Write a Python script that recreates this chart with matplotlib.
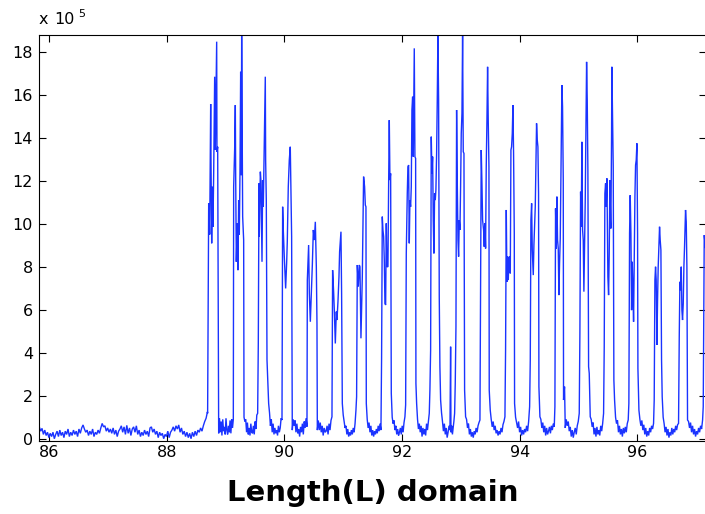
import numpy as np
import matplotlib
matplotlib.use("Agg")
import matplotlib.pyplot as plt

# Intensity along the length domain, in units of 1e5.

# Quiet lead-in before the first burst (evenly sampled between these limits)
lead_span = (85.83, 88.69)
lead_y = [0.55, 0.35, 0.48, 0.2, 0.4, 0.15, 0.3, 0.05, 0.25, 0.1,
          0.3, 0.0, 0.2, 0.35, 0.1, 0.4, 0.15, 0.3, 0.05, 0.35,
          0.2, 0.45, 0.1, 0.3, 0.15, 0.4, 0.2, 0.35, 0.1, 0.45,
          0.25, 0.5, 0.64, 0.45, 0.3, 0.4, 0.15, 0.35, 0.2, 0.45,
          0.1, 0.3, 0.2, 0.4, 0.25, 0.5, 0.71, 0.55, 0.6, 0.35,
          0.5, 0.3, 0.45, 0.25, 0.5, 0.2, 0.4, 0.1, 0.35, 0.45,
          0.6, 0.3, 0.55, 0.2, 0.62, 0.25, 0.5, 0.15, 0.45, 0.55,
          0.3, 0.6, 0.2, 0.4, 0.1, 0.3, 0.15, 0.4, 0.2, 0.35,
          0.1, 0.5, 0.55, 0.3, 0.45, 0.2, 0.35, 0.05, 0.3, 0.15,
          0.25, 0.0, 0.2, 0.1, 0.35, 0.05, 0.3, 0.4, 0.55, 0.35,
          0.6, 0.45, 0.64, 0.3, 0.5, 0.2, 0.35, 0.1, 0.3, 0.05,
          0.25, 0.0, 0.3, 0.1, 0.35, 0.15, 0.4, 0.3, 0.5, 0.35,
          0.6, 0.8, 0.95, 1.25]

# Bursts: (position, intensity) vertices
b01 = [(88.693, 1.18), (88.711, 10.95), (88.728, 9.5), (88.745, 15.57), (88.750, 13.1),
       (88.762, 9.09), (88.773, 11.72), (88.784, 9.86), (88.796, 12.34), (88.813, 16.84),
       (88.824, 13.43), (88.847, 18.47), (88.852, 13.35), (88.864, 13.58), (88.881, 0.25)]
b02 = [(89.130, 0.9), (89.136, 11.72), (89.153, 13.5), (89.164, 15.52), (89.170, 12.34),
       (89.181, 8.23), (89.198, 10.02), (89.209, 7.84), (89.221, 11.10), (89.232, 9.5),
       (89.243, 12.26), (89.255, 17.07), (89.266, 12.26), (89.272, 18.78), (89.283, 13.0),
       (89.289, 10.33), (89.306, 9.24), (89.312, 1.0)]
b03 = [(89.544, 1.18), (89.555, 4.43), (89.567, 11.88), (89.572, 9.40), (89.590, 12.42),
       (89.601, 11.95), (89.618, 8.23), (89.629, 12.03), (89.640, 10.79), (89.652, 12.96),
       (89.674, 16.84), (89.680, 12.96), (89.691, 11.10), (89.703, 3.66), (89.720, 2.42),
       (89.731, 1.64)]
b04 = [(89.958, 0.87), (89.969, 10.79), (89.980, 9.71), (89.997, 8.47), (90.020, 6.99),
       (90.037, 8.16), (90.048, 9.16), (90.065, 11.72), (90.082, 12.96), (90.099, 13.58),
       (90.110, 11.41), (90.122, 9.40), (90.133, 0.4)]
b05 = [(90.383, 0.56), (90.389, 7.38), (90.411, 9.01), (90.423, 6.76), (90.440, 5.44),
       (90.457, 6.76), (90.474, 8.08), (90.491, 9.71), (90.508, 9.24), (90.525, 10.09),
       (90.542, 8.00), (90.553, 5.36), (90.559, 0.4)]
b06 = [(90.808, 1.02), (90.819, 7.84), (90.836, 6.84), (90.848, 5.98), (90.865, 4.43),
       (90.882, 5.91), (90.893, 5.52), (90.910, 6.37), (90.927, 7.53), (90.938, 8.70),
       (90.961, 9.63), (90.972, 6.76), (90.984, 1.64)]
b07 = [(91.216, 1.33), (91.227, 1.95), (91.239, 8.08), (91.256, 7.07), (91.273, 8.08),
       (91.284, 8.00), (91.301, 4.67), (91.312, 5.98), (91.324, 7.53), (91.346, 12.19),
       (91.363, 11.72), (91.375, 10.87), (91.386, 10.79), (91.392, 1.64)]
b08 = [(91.641, 0.40), (91.652, 3.74), (91.664, 10.33), (91.675, 9.71), (91.687, 9.40),
       (91.698, 8.31), (91.709, 6.29), (91.721, 6.22), (91.732, 10.02), (91.743, 8.00),
       (91.760, 8.00), (91.772, 11.88), (91.783, 14.82), (91.794, 12.03), (91.806, 12.34),
       (91.817, 2.11)]
b09 = [(92.049, 1.02), (92.061, 1.57), (92.072, 8.62), (92.089, 11.41), (92.100, 12.65),
       (92.112, 12.73), (92.123, 9.09), (92.134, 11.10), (92.146, 10.79), (92.157, 11.72),
       (92.168, 15.29), (92.180, 15.91), (92.191, 13.12), (92.208, 18.16), (92.219, 13.12),
       (92.231, 13.04), (92.236, 2.57), (92.248, 1.64)]
b10 = [(92.463, 1.18), (92.474, 2.26), (92.486, 4.12), (92.497, 14.05), (92.508, 12.34),
       (92.520, 13.12), (92.531, 10.17), (92.542, 8.62), (92.554, 11.41), (92.565, 11.10),
       (92.576, 11.57), (92.588, 13.27), (92.599, 15.75), (92.610, 18.78), (92.622, 15.75),
       (92.633, 6.60), (92.644, 3.35), (92.656, 1.80)]
spike = [(92.815, 0.4), (92.826, 4.28), (92.832, 0.3)]
b11 = [(92.894, 1.18), (92.905, 2.57), (92.917, 5.21), (92.928, 15.29), (92.939, 12.03),
       (92.951, 9.24), (92.962, 8.47), (92.973, 10.17), (92.985, 9.71), (92.996, 11.72),
       (93.007, 14.20), (93.019, 15.13), (93.030, 18.78), (93.041, 13.35), (93.053, 13.27),
       (93.064, 2.26), (93.081, 1.02)]
b12 = [(93.325, 0.87), (93.336, 7.22), (93.347, 13.43), (93.359, 11.88), (93.370, 10.17),
       (93.387, 9.71), (93.398, 8.93), (93.410, 10.02), (93.421, 8.85), (93.432, 12.65),
       (93.444, 14.82), (93.455, 17.30), (93.466, 14.82), (93.478, 12.65), (93.483, 2.26),
       (93.500, 1.33)]
b13 = [(93.750, 1.02), (93.761, 4.12), (93.773, 10.64), (93.784, 7.30), (93.795, 8.47),
       (93.807, 7.38), (93.818, 8.39), (93.829, 8.47), (93.841, 7.69), (93.852, 13.43),
       (93.863, 13.58), (93.875, 14.20), (93.886, 15.52), (93.897, 13.27), (93.909, 9.55),
       (93.914, 1.64)]
b14 = [(94.170, 1.49), (94.181, 3.66), (94.192, 10.17), (94.204, 10.95), (94.215, 8.78),
       (94.232, 7.61), (94.243, 9.01), (94.254, 9.86), (94.266, 10.79), (94.277, 12.65),
       (94.288, 14.67), (94.300, 13.89), (94.311, 13.58), (94.322, 11.41), (94.328, 2.42),
       (94.345, 1.02)]
b15 = [(94.589, 0.56), (94.600, 1.49), (94.611, 10.71), (94.623, 8.85), (94.634, 11.26),
       (94.645, 9.24), (94.657, 8.85), (94.668, 6.68), (94.679, 8.16), (94.691, 9.32),
       (94.702, 12.19), (94.719, 16.45), (94.730, 15.44), (94.742, 12.03), (94.747, 1.80),
       (94.764, 2.42), (94.776, 0.5)]
b16 = [(95.014, 1.18), (95.025, 4.90), (95.037, 11.49), (95.048, 9.86), (95.059, 13.81),
       (95.071, 9.71), (95.082, 9.24), (95.093, 6.84), (95.105, 9.24), (95.116, 11.10),
       (95.127, 14.20), (95.139, 17.53), (95.150, 15.75), (95.161, 12.50), (95.173, 3.35),
       (95.184, 3.04), (95.201, 1.02)]
b17 = [(95.428, 1.18), (95.439, 4.28), (95.450, 11.41), (95.462, 11.88), (95.473, 10.79),
       (95.485, 12.11), (95.496, 8.78), (95.501, 7.53), (95.513, 6.68), (95.524, 8.62),
       (95.535, 12.03), (95.547, 10.17), (95.552, 9.78), (95.564, 14.20), (95.569, 17.30),
       (95.581, 15.05), (95.592, 12.65), (95.603, 2.73), (95.615, 1.80)]
b18 = [(95.847, 0.87), (95.858, 1.64), (95.870, 9.55), (95.881, 11.33), (95.893, 9.55),
       (95.904, 5.98), (95.915, 8.23), (95.927, 6.91), (95.938, 5.44), (95.949, 8.47),
       (95.961, 11.26), (95.972, 12.73), (95.983, 12.96), (95.995, 13.74), (96.006, 9.55),
       (96.012, 3.27), (96.029, 1.33)]
b19 = [(96.278, 0.71), (96.289, 1.80), (96.301, 7.38), (96.312, 8.00), (96.323, 7.38),
       (96.335, 4.36), (96.346, 6.45), (96.357, 8.00), (96.369, 8.93), (96.380, 9.86),
       (96.391, 9.24), (96.403, 8.78), (96.414, 3.66), (96.425, 1.95)]
b20 = [(96.703, 0.71), (96.715, 4.74), (96.726, 7.30), (96.737, 6.91), (96.749, 8.00),
       (96.760, 5.98), (96.771, 5.52), (96.783, 6.29), (96.794, 8.00), (96.805, 8.93),
       (96.817, 10.17), (96.822, 10.64), (96.834, 10.09), (96.845, 8.00), (96.856, 0.87)]
b21 = [(97.112, 0.87), (97.123, 1.49), (97.140, 9.47), (97.160, 8.9)]

# Background noise between bursts (evenly sampled between neighbouring bursts)
g01 = [0.95, 0.3, 0.8, 0.15, 0.9, 0.35, 0.55, 0.2, 0.95, 0.4, 0.2, 0.6, 0.3, 0.85, 0.25, 0.9, 0.5]
g02 = [0.8, 0.9, 0.3, 0.75, 0.2, 0.5, 0.15, 0.7, 0.3, 0.25, 0.6, 0.2, 0.8, 0.45, 1.1]
g03 = [1.2, 0.6, 0.9, 0.3, 0.7, 0.2, 0.5, 0.25, 0.4, 0.15, 0.6, 0.3, 0.5, 0.95]
g04 = [0.9, 0.6, 0.85, 0.3, 0.7, 0.25, 0.45, 0.1, 0.55, 0.3, 0.7, 0.2, 0.8, 0.5, 0.95]
g05 = [0.85, 0.4, 0.75, 0.3, 0.6, 0.15, 0.5, 0.3, 0.35, 0.6, 0.2, 0.7, 0.4, 0.85]
g06 = [1.1, 0.8, 0.5, 0.6, 0.2, 0.45, 0.1, 0.3, 0.15, 0.4, 0.2, 0.5, 0.3, 0.7]
g07 = [0.9, 0.5, 0.75, 0.3, 0.6, 0.15, 0.4, 0.1, 0.35, 0.2, 0.45, 0.25, 0.6, 0.35, 0.7]
g08 = [1.0, 0.7, 0.85, 0.4, 0.6, 0.2, 0.45, 0.15, 0.3, 0.5, 0.2, 0.6, 0.3, 0.75]
g09 = [0.9, 0.45, 0.7, 0.3, 0.6, 0.1, 0.5, 0.2, 0.45, 0.15, 0.7, 0.4, 0.8]
g10a = [1.2, 0.8, 0.35, 0.7, 0.2, 0.5, 0.05, 0.3, 0.6]
g10b = [0.6, 0.2, 0.5, 0.8]
g11 = [0.9, 0.5, 0.7, 0.2, 0.45, 0.1, 0.3, 0.05, 0.35, 0.2, 0.5, 0.3, 0.6, 0.75]
g12 = [0.9, 0.55, 0.8, 0.4, 0.6, 0.25, 0.4, 0.15, 0.35, 0.2, 0.5, 0.3, 0.65, 0.8]
g13 = [1.0, 0.75, 0.5, 0.8, 0.3, 0.55, 0.15, 0.4, 0.2, 0.45, 0.3, 0.6, 0.35, 0.8]
g14 = [0.9, 0.5, 0.75, 0.3, 0.6, 0.15, 0.5, 0.2, 0.35, 0.55, 0.25, 0.6, 0.4, 0.7]
g15 = [0.9, 0.6, 0.8, 0.35, 0.55, 0.1, 0.4, 0.05, 0.3, 0.5, 0.2, 0.6, 0.8]
g16 = [0.9, 0.55, 0.75, 0.2, 0.5, 0.1, 0.55, 0.2, 0.4, 0.15, 0.6, 0.35, 0.7]
g17 = [1.0, 0.7, 0.85, 0.3, 0.6, 0.2, 0.45, 0.1, 0.5, 0.25, 0.55, 0.3, 0.7]
g18 = [0.9, 0.6, 0.85, 0.4, 0.65, 0.2, 0.5, 0.1, 0.35, 0.15, 0.5, 0.3, 0.6, 0.45]
g19 = [1.0, 0.7, 0.3, 0.55, 0.15, 0.45, 0.05, 0.3, 0.15, 0.5, 0.2, 0.45, 0.3, 0.6, 0.4, 0.65]
g20 = [0.8, 0.5, 0.75, 0.3, 0.6, 0.2, 0.45, 0.1, 0.35, 0.2, 0.5, 0.3, 0.6, 0.45]

x_ticks = [86, 88, 90, 92, 94, 96]
y_ticks = [0, 2, 4, 6, 8, 10, 12, 14, 16, 18]
x_label = "Length(L) domain"
SCALE = 1e5

# ---- assemble the trace -------------------------------------------------
sequence = [b01, g01, b02, g02, b03, g03, b04, g04, b05, g05, b06, g06, b07, g07,
            b08, g08, b09, g09, b10, g10a, spike, g10b, b11, g11, b12, g12, b13, g13,
            b14, g14, b15, g15, b16, g16, b17, g17, b18, g18, b19, g19, b20, g20, b21]

xs = list(np.linspace(lead_span[0], lead_span[1], len(lead_y)))
ys = list(lead_y)
for i, part in enumerate(sequence):
    if isinstance(part[0], tuple):
        xs += [p[0] for p in part]
        ys += [p[1] for p in part]
    else:
        x0 = sequence[i - 1][-1][0]
        x1 = sequence[i + 1][0][0]
        xs += list(np.linspace(x0, x1, len(part) + 2)[1:-1])
        ys += list(part)

xs = np.array(xs)
ys = np.array(ys) * SCALE

# ---- figure ---------------------------------------------------------------
plt.rcParams['font.family'] = ['DejaVu Sans']

W, H = 705, 514
fig = plt.figure(figsize=(W / 100, H / 100), dpi=100)
ax = fig.add_axes([39.3 / W, 73 / H, (706 - 39.3) / W, (441 - 35) / H])

ax.plot(xs, ys, color='#1a33ff', linewidth=1.0, solid_joinstyle='miter')

ax.set_xlim(85.83, 97.17)
ax.set_ylim(-0.107 * SCALE, 18.78 * SCALE)
ax.set_xticks(x_ticks)
ax.set_xticklabels([str(t) for t in x_ticks])
ax.set_yticks([t * SCALE for t in y_ticks])
ax.set_yticklabels([str(t) for t in y_ticks])

ax.tick_params(direction='in', top=True, right=True, length=5, width=0.8,
               labelsize=11.5, colors='black')
ax.tick_params(axis='x', pad=3.0)
ax.tick_params(axis='y', pad=4.5)
for s in ax.spines.values():
    s.set_linewidth(0.8)
    s.set_color('black')

# exponent label above the y axis
fig.text(39 / W, (H - 24) / H, "x", fontsize=11.5, va='baseline', ha='left')
fig.text(54.5 / W, (H - 24) / H, "10", fontsize=11.5, va='baseline', ha='left')
fig.text(78 / W, (H - 16.7) / H, "5", fontsize=8, va='baseline', ha='left')

fig.text(373 / W, (H - 500.7) / H, x_label, fontsize=21, fontweight='bold',
         va='baseline', ha='center')

fig.savefig("out.png", dpi=100)
